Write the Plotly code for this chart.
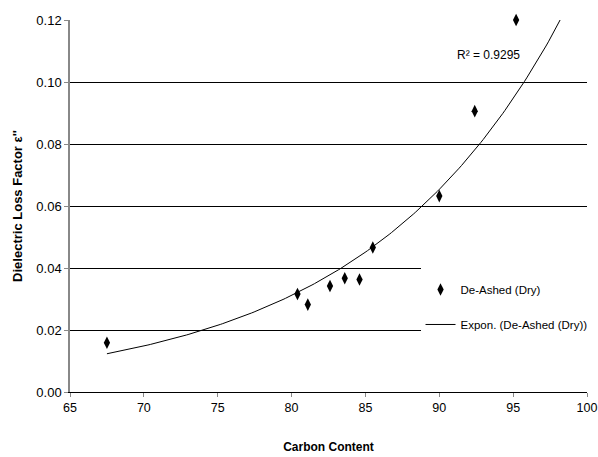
import numpy as np
import plotly.graph_objects as go

# Data
carbon = [67.5, 80.4, 81.1, 82.6, 83.6, 84.6, 85.5, 90.0, 92.4, 95.2]
loss_factor = [0.0159, 0.0316, 0.0282, 0.0342, 0.0367, 0.0363, 0.0466, 0.0632, 0.0906, 0.1200]
x_ticks = [65, 70, 75, 80, 85, 90, 95, 100]
y_ticks = [0.00, 0.02, 0.04, 0.06, 0.08, 0.10, 0.12]
r2_label = "R² = 0.9295"
series_name = "De-Ashed (Dry)"
trend_name = "Expon. (De-Ashed (Dry))"

# Exponential trendline fitted to the data (as Excel does)
xa = np.array(carbon)
ya = np.array(loss_factor)
b, ln_a = np.polyfit(xa, np.log(ya), 1)
trend_x = np.linspace(xa.min(), 100, 200)
trend_y = np.exp(ln_a + b * trend_x)

FONT = "Liberation Sans, Arial, sans-serif"

fig = go.Figure()
fig.add_trace(go.Scatter(
    x=carbon, y=loss_factor, mode="markers", name=series_name,
    marker=dict(symbol="diamond-tall", size=9, color="black"),
    cliponaxis=False, legendgroup="a",
))
fig.add_trace(go.Scatter(
    x=trend_x, y=trend_y, mode="lines", name=trend_name,
    line=dict(color="black", width=1), legendgroup="b",
))

fig.add_annotation(
    x=93.3, y=0.1087, text=r2_label, showarrow=False,
    font=dict(family=FONT, size=12, color="black"),
)

fig.update_layout(
    width=598, height=457,
    margin=dict(l=70, r=11, t=20, b=65, autoexpand=False),
    paper_bgcolor="white", plot_bgcolor="white",
    font=dict(family=FONT, size=13, color="black"),
    showlegend=True,
    legend=dict(
        x=0.678, y=0.36, xanchor="left", yanchor="top",
        bgcolor="white", borderwidth=0,
        font=dict(family=FONT, size=11.5, color="black"),
        title=dict(text=" ", font=dict(size=13)),
        traceorder="grouped", tracegroupgap=16,
    ),
    xaxis=dict(
        range=[65, 100], tickvals=x_ticks, ticktext=[str(v) for v in x_ticks],
        showgrid=False, zeroline=False,
        showline=True, linecolor="black", linewidth=1.2,
        ticks="outside", ticklen=4, tickcolor="#888888",
        ticklabeloverflow="allow", tickfont=dict(size=12.5),
        title=dict(text="<b>Carbon Content</b>", standoff=28,
                   font=dict(family=FONT, size=12)),
    ),
    yaxis=dict(
        range=[0, 0.12], tickvals=y_ticks, ticktext=["%.2f" % v for v in y_ticks],
        showgrid=True, gridcolor="black", gridwidth=1.2, zeroline=False,
        showline=True, linecolor="#888888", linewidth=1.5,
        ticks="outside", ticklen=4, tickcolor="#888888",
        title=dict(text="<b>Dielectric Loss Factor ε''</b>", standoff=11,
                   font=dict(family=FONT, size=13)),
    ),
)

fig.write_html("out.html", config={"displayModeBar": False},
               post_script="document.body.style.margin='0';")
